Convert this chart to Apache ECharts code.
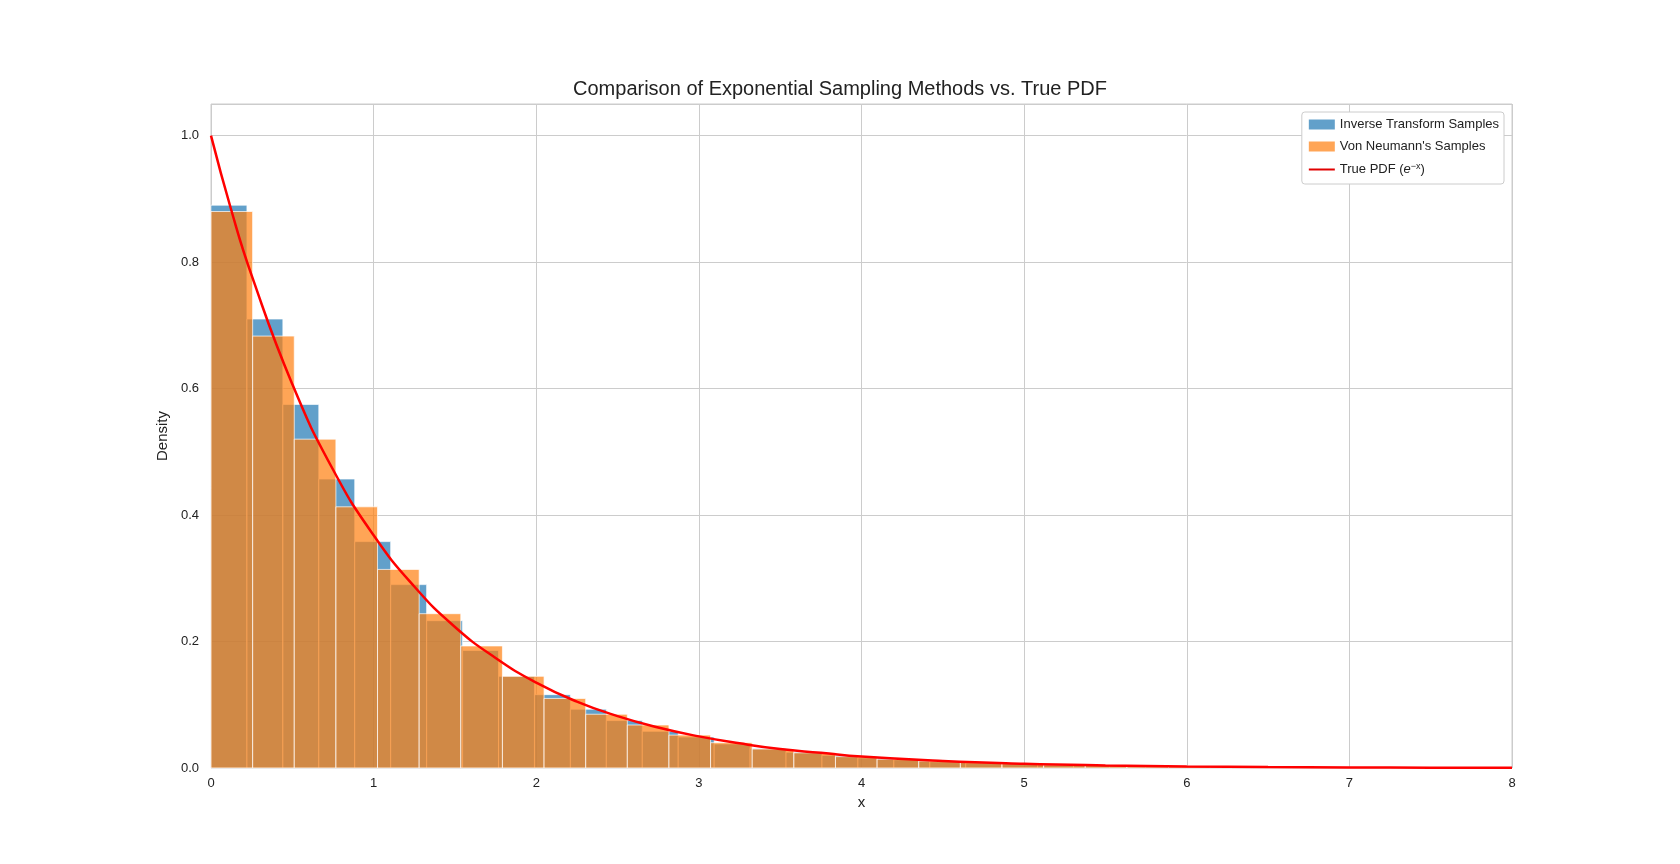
<!DOCTYPE html>
<html><head><meta charset="utf-8">
<script src="https://cdn.jsdelivr.net/npm/echarts@6/dist/echarts.min.js"></script>
<style>html,body{margin:0;background:#fff}#chart{width:1680px;height:864px}</style>
</head><body><div id="chart"></div>
<script>
var invWidth = 0.221;
var invHeights = [0.89,0.71,0.575,0.457,0.358,0.29,0.233,0.186,0.145,0.116,0.093,0.075,0.058,0.049,0.038,0.031,0.025,0.020,0.016,0.013,0.010,0.008,0.007,0.005,0.004,0.0035,0.003,0.0025,0.002,0.0015,0.0012,0.001,0.0008,0.0006,0.0005,0.0004];
var vnWidth = 0.256;
var vnHeights = [0.88,0.683,0.52,0.413,0.314,0.244,0.193,0.145,0.11,0.085,0.068,0.052,0.04,0.03,0.024,0.018,0.014,0.011,0.009,0.007,0.005,0.004,0.003,0.0025,0.002,0.0015,0.0012,0.001,0.0008,0.0006,0.0005];
var pdfX = [0,0.125,0.25,0.5,0.75,1,1.25,1.5,1.75,2,2.25,2.5,2.75,3,3.25,3.5,3.75,4,4.5,5,5.5,6,6.5,7,7.5,8];
var pdfY = [1,0.882,0.779,0.607,0.472,0.368,0.287,0.223,0.174,0.135,0.105,0.082,0.064,0.050,0.039,0.030,0.024,0.018,0.011,0.0067,0.0041,0.0025,0.0015,0.0009,0.00055,0.00034];
var xTicks = [0,1,2,3,4,5,6,7,8];

var c = echarts.init(document.getElementById('chart'));
var font = 'Arial, "Liberation Sans", sans-serif';

function histSeries(name, width, heights, color){
  return {
    name: name, type: 'custom',
    data: heights.map(function(h, i){ return [i*width, (i+1)*width, h]; }),
    renderItem: function(params, api){
      var p0 = api.coord([api.value(0), api.value(2)]);
      var p1 = api.coord([api.value(1), 0]);
      return {type:'rect', shape:{x:p0[0], y:p0[1], width:p1[0]-p0[0], height:p1[1]-p0[1]},
        style:{fill:color, opacity:0.7, stroke:'#fff', lineWidth:1}};
    },
    itemStyle:{color:color, opacity:0.7},
    encode:{x:[0,1], y:2}
  };
}

c.setOption({
  animation:false,
  title:{text:'Comparison of Exponential Sampling Methods vs. True PDF', left:'center', top:74,
    textStyle:{fontFamily:font, fontSize:20, fontWeight:'normal', color:'#222'}},
  grid:{left:211, right:168, top:104, bottom:96, show:true, borderColor:'#ccc', borderWidth:1},
  xAxis:{type:'value', min:0, max:8, interval:1, name:'x', nameLocation:'middle', nameGap:22,
    nameTextStyle:{fontFamily:font, fontSize:15, color:'#222'},
    axisLabel:{fontFamily:font, fontSize:13, color:'#222', margin:9},
    axisLine:{show:false}, axisTick:{show:false},
    splitLine:{lineStyle:{color:'#ccc'}}},
  yAxis:{type:'value', min:0, max:1.05, interval:0.2, name:'Density', nameLocation:'middle', nameGap:40,
    nameTextStyle:{fontFamily:font, fontSize:15, color:'#222'},
    axisLabel:{fontFamily:font, fontSize:13, color:'#222', margin:12,
      formatter:function(v){ return v > 1.01 ? '' : v.toFixed(1); }},
    axisLine:{show:false}, axisTick:{show:false},
    splitLine:{lineStyle:{color:'#ccc'}}},
  legend:{orient:'vertical', right:176, top:112, itemWidth:26, itemHeight:10, itemGap:9,
    backgroundColor:'#fff', borderColor:'#ccc', borderWidth:1, borderRadius:3, padding:[6,5,8,7],
    textStyle:{fontFamily:font, fontSize:13, color:'#222',
      rich:{i:{fontStyle:'italic', fontFamily:font, fontSize:13, color:'#222'},
            s:{fontSize:9, verticalAlign:'top', fontFamily:font, color:'#222', padding:[0,0,6,0]}}},
    formatter:function(n){ return n === 'True PDF' ? 'True PDF ({i|e}{s|−x})' : n; },
    data:[{name:'Inverse Transform Samples', icon:'rect'},
          {name:"Von Neumann's Samples", icon:'rect'},
          {name:'True PDF', icon:'path://M0,4 L26,4 L26,6 L0,6 Z', itemStyle:{color:'#e00000'}}]},
  series:[
    histSeries('Inverse Transform Samples', invWidth, invHeights, '#1f77b4'),
    histSeries("Von Neumann's Samples", vnWidth, vnHeights, '#ff7f0e'),
    {name:'True PDF', type:'line', smooth:true, symbol:'none', z:5,
      data:pdfX.map(function(x, i){ return [x, pdfY[i]]; }),
      lineStyle:{color:'#ff0000', width:2.5}, itemStyle:{color:'#ff0000'}}
  ]
});
</script></body></html>
